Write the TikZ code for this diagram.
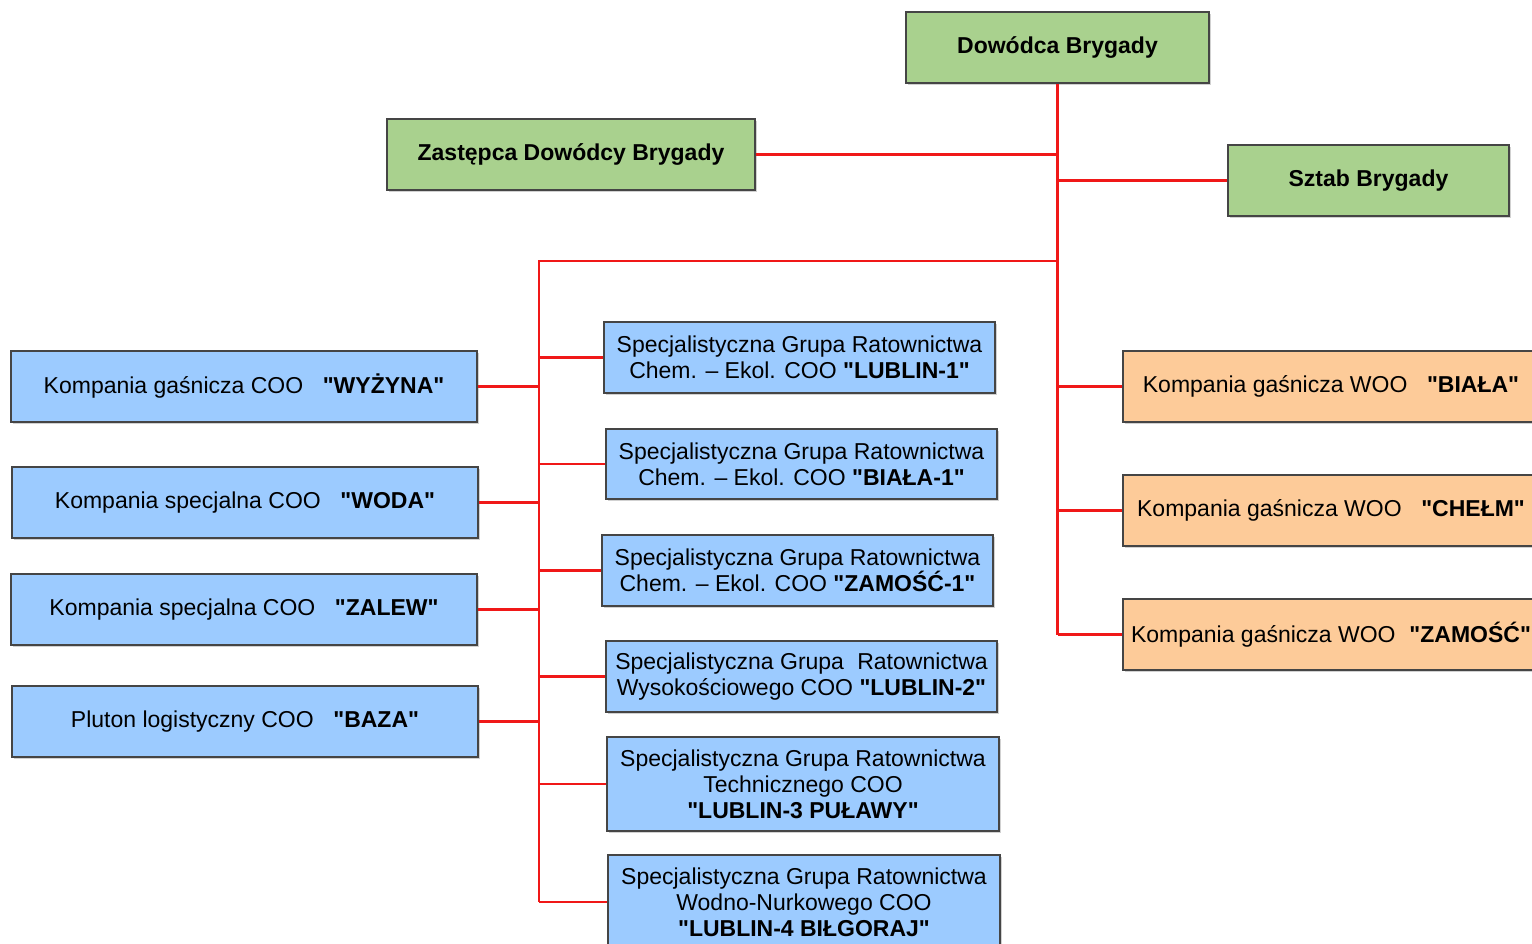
\documentclass[tikz,border=0pt]{standalone}
\usepackage{fontspec}
\setmainfont{Liberation Sans}[Ligatures=TeXOff]
\usetikzlibrary{shadows}
\definecolor{boxgreen}{HTML}{A9D18E}
\definecolor{boxblue}{HTML}{9CCBFF}
\definecolor{boxorange}{HTML}{FDCB99}
\definecolor{boxline}{HTML}{454545}
\definecolor{linkred}{HTML}{F01818}
\tikzset{
  box/.style={draw=boxline, line width=1.6pt, inner sep=0pt, align=center,
    font=\fontsize{23}{26}\selectfont,
    drop shadow={shadow xshift=2pt, shadow yshift=-2pt, fill=black, opacity=0.18}},
  greenbox/.style={box, fill=boxgreen},
  bluebox/.style={box, fill=boxblue},
  orangebox/.style={box, fill=boxorange},
  link/.style={draw=linkred, line width=2.4pt}
}
\begin{document}
\begin{tikzpicture}[x=1pt,y=-1pt]
\useasboundingbox (0,0) rectangle (1532,943);
\clip (0,0) rectangle (1532,943);
% top level
\node[greenbox, minimum width=303pt, minimum height=71pt] (dow) at (1057.5,47.5) {\textbf{Dowódca Brygady}};
\node[greenbox, minimum width=368pt, minimum height=71pt] (zas) at (571,154.5) {\textbf{Zastępca Dowódcy Brygady}};
\node[greenbox, minimum width=281pt, minimum height=71pt] (szt) at (1368.5,180.5) {\textbf{Sztab Brygady}};
% left column
\node[bluebox, minimum width=466pt, minimum height=71pt] (wyz) at (244,386.5) {Kompania gaśnicza COO\hspace{0.85em}\textbf{"WYŻYNA"}};
\node[bluebox, minimum width=466pt, minimum height=71pt] (woda) at (245,502.5) {Kompania specjalna COO\hspace{0.85em}\textbf{"WODA"}};
\node[bluebox, minimum width=466pt, minimum height=71pt] (zalew) at (244,609.5) {Kompania specjalna COO\hspace{0.85em}\textbf{"ZALEW"}};
\node[bluebox, minimum width=466pt, minimum height=71pt] (baza) at (245,721.5) {Pluton logistyczny COO\hspace{0.85em}\textbf{"BAZA"}};
% middle column
\node[bluebox, minimum width=391pt, minimum height=71pt] (l1) at (799.5,357.5) {Specjalistyczna Grupa Ratownictwa\\Chem. – Ekol. COO \textbf{"LUBLIN-1"}};
\node[bluebox, minimum width=391pt, minimum height=70pt] (b1) at (801.5,464) {Specjalistyczna Grupa Ratownictwa\\Chem. – Ekol. COO \textbf{"BIAŁA-1"}};
\node[bluebox, minimum width=391pt, minimum height=71pt] (z1) at (797.5,570.5) {Specjalistyczna Grupa Ratownictwa\\Chem. – Ekol. COO \textbf{"ZAMOŚĆ-1"}};
\node[bluebox, minimum width=391pt, minimum height=71pt] (l2) at (801.5,676.5) {Specjalistyczna Grupa\hspace{0.3em} Ratownictwa\\Wysokościowego COO \textbf{"LUBLIN-2"}};
\node[bluebox, minimum width=392pt, minimum height=94pt] (l3) at (803,784) {Specjalistyczna Grupa Ratownictwa\\Technicznego COO\\\textbf{"LUBLIN-3 PUŁAWY"}};
\node[bluebox, minimum width=392pt, minimum height=94pt] (l4) at (804,902) {Specjalistyczna Grupa Ratownictwa\\Wodno-Nurkowego COO\\\textbf{"LUBLIN-4 BIŁGORAJ"}};
% right column
\node[orangebox, minimum width=416pt, minimum height=71pt] (bia) at (1331,386.5) {Kompania gaśnicza WOO\hspace{0.85em}\textbf{"BIAŁA"}};
\node[orangebox, minimum width=416pt, minimum height=71pt] (che) at (1331,510.5) {Kompania gaśnicza WOO\hspace{0.85em}\textbf{"CHEŁM"}};
\node[orangebox, minimum width=416pt, minimum height=71pt] (zam) at (1331,634.5) {Kompania gaśnicza WOO\hspace{0.6em}\textbf{"ZAMOŚĆ"}};
% junction coordinates
\coordinate (hbar) at (1057.5,261);
\coordinate (lbar) at (539,261);
% connectors
\draw[link] (dow.south) -- (dow.south |- zam.west);
\draw[link] (zas.east) -- (zas.east -| dow.south);
\draw[link] (szt.west -| dow.south) -- (szt.west);
\draw[link] (hbar) -- (lbar) -- (lbar |- l4.west);
\draw[link] (bia.west -| dow.south) -- (bia.west);
\draw[link] (che.west -| dow.south) -- (che.west);
\draw[link] (zam.west -| dow.south) -- (zam.west);
\draw[link] (wyz.east) -- (wyz.east -| lbar);
\draw[link] (woda.east) -- (woda.east -| lbar);
\draw[link] (zalew.east) -- (zalew.east -| lbar);
\draw[link] (baza.east) -- (baza.east -| lbar);
\draw[link] (l1.west -| lbar) -- (l1.west);
\draw[link] (b1.west -| lbar) -- (b1.west);
\draw[link] (z1.west -| lbar) -- (z1.west);
\draw[link] (l2.west -| lbar) -- (l2.west);
\draw[link] (l3.west -| lbar) -- (l3.west);
\draw[link] (l4.west -| lbar) -- (l4.west);
\end{tikzpicture}
\end{document}
